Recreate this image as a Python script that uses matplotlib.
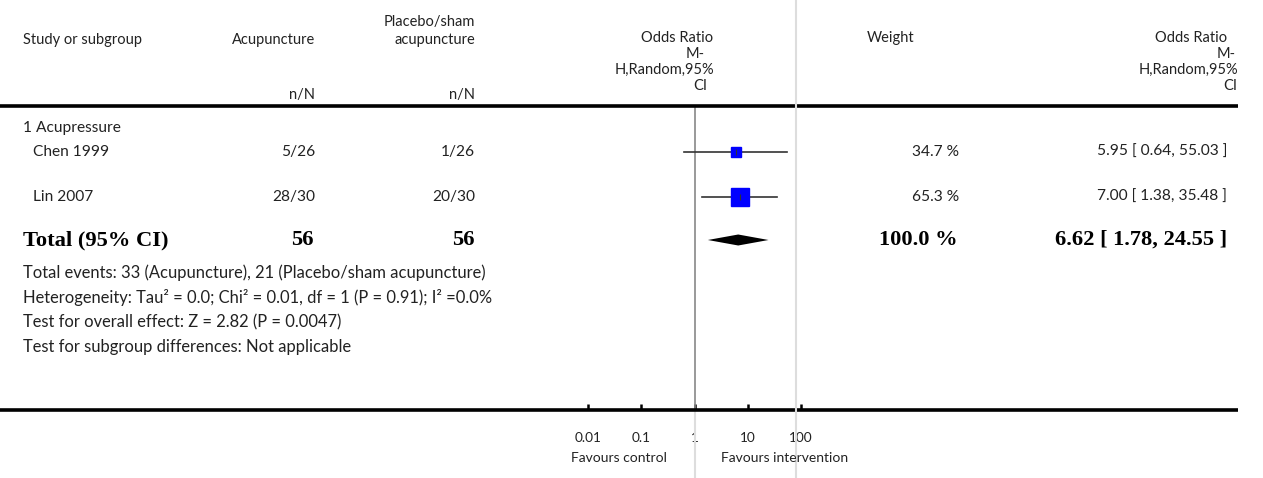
##########################################
# forest plot: acupuncture vs placebo #
##########################################

import numpy as np
import matplotlib
matplotlib.use('Agg')
import matplotlib.pyplot as plt
from matplotlib.lines import Line2D
from matplotlib.patches import Polygon

# data
subgroup = '1 Acupressure'
studies = ['Chen 1999', 'Lin 2007']
acu_events = [5, 28]
acu_total = [26, 30]
pla_events = [1, 20]
pla_total = [26, 30]
weights = [34.7, 65.3]
or_est = [5.95, 7.00]
or_low = [0.64, 1.38]
or_high = [55.03, 35.48]
tot_est = 6.62
tot_low = 1.78
tot_high = 24.55
tot_weight = 100.0
xticks = [0.01, 0.1, 1, 10, 100]
xticklabels = ['0.01', '0.1', '1', '10', '100']
footnotes = ['Total events: {} (Acupuncture), {} (Placebo/sham acupuncture)'.format(sum(acu_events), sum(pla_events)),
             'Heterogeneity: Tau\u00b2 = 0.0; Chi\u00b2 = 0.01, df = 1 (P = 0.91); I\u00b2 =0.0%',
             'Test for overall effect: Z = 2.82 (P = 0.0047)',
             'Test for subgroup differences: Not applicable']

W, H = 1263, 478
fig = plt.figure(figsize=(W/100., H/100.), dpi=100)
plt.rcParams['font.family'] = ['Lato', 'DejaVu Sans']
FS = 10.5
FS_ROW = 11.2
BOLD = dict(family='Liberation Serif', weight='bold', fontsize=16.2)

def px(x, y):
    ### pixel position (from top left) to figure fraction
    return x/float(W), 1-y/float(H)

def txt(x, y, s, ha='left', **kw):
    opts = dict(fontsize=FS, color='#222222', va='center', ha=ha)
    opts.update(kw)
    fig.text(*px(x, y), s, **opts)

def hline(y, x0=0, x1=1238, lw=2.6, color='black'):
    (a, b), (c, d) = px(x0, y), px(x1, y)
    fig.add_artist(Line2D([a, c], [b, d], color=color, lw=lw, solid_capstyle='butt'))

### header
txt(23, 40, 'Study or subgroup')
txt(315, 40, 'Acupuncture', ha='right')
txt(475, 22, 'Placebo/sham', ha='right')
txt(475, 40, 'acupuncture', ha='right')
txt(315, 95, 'n/N', ha='right')
txt(475, 95, 'n/N', ha='right')
for (y, s, x) in [(38, 'Odds Ratio', 713), (54, 'M-', 705), (70, 'H,Random,95%', 714), (86, 'CI', 707)]:
    txt(x, y, s, ha='right')
txt(914, 38, 'Weight', ha='right')
for (y, s, x) in [(38, 'Odds Ratio', 1227), (54, 'M-', 1236), (70, 'H,Random,95%', 1238), (86, 'CI', 1237)]:
    txt(x, y, s, ha='right')
hline(106)
hline(410)

### light column separator
fig.add_artist(Line2D([796/float(W)]*2, [0, 1], color='#dddddd', lw=1.5))

### table rows
row_y = [152, 197]
txt(23, 128, subgroup, fontsize=FS_ROW)
for i, name in enumerate(studies):
    y = row_y[i]
    txt(33, y, name, fontsize=FS_ROW)
    txt(315, y, '{}/{}'.format(acu_events[i], acu_total[i]), ha='right', fontsize=FS_ROW)
    txt(475, y, '{}/{}'.format(pla_events[i], pla_total[i]), ha='right', fontsize=FS_ROW)
    txt(959, y, '{:.1f} %'.format(weights[i]), ha='right', fontsize=FS_ROW)
    txt(1227, y, '{:.2f} [ {:.2f}, {:.2f} ]'.format(or_est[i], or_low[i], or_high[i]), ha='right', fontsize=FS_ROW)

ytot = 240
txt(23, ytot, 'Total (95% CI)', color='black', **BOLD)
txt(314, ytot, '{}'.format(sum(acu_total)), ha='right', color='black', **BOLD)
txt(475, ytot, '{}'.format(sum(pla_total)), ha='right', color='black', **BOLD)
txt(958, ytot, '{:.1f} %'.format(tot_weight), ha='right', color='black', **BOLD)
txt(1227, ytot, '{:.2f} [ {:.2f}, {:.2f} ]'.format(tot_est, tot_low, tot_high), ha='right', color='black', **BOLD)

for i, s in enumerate(footnotes):
    txt(23, 273+24.7*i, s, fontsize=11.9)

### forest panel
l, b = px(588, 410)
r, t = px(801, 106)
ax = fig.add_axes([l, b, r-l, t-b])
ax.set_xscale('log')
ax.set_xlim(0.01, 100)
ax.set_ylim(410, 106)
for s in ax.spines.values():
    s.set_visible(False)
ax.patch.set_alpha(0)
ax.set_yticks([])
ax.set_xticks(xticks)
ax.set_xticklabels(xticklabels, fontsize=9.8, color='#222222')
ax.xaxis.set_minor_locator(matplotlib.ticker.NullLocator())
ax.tick_params(axis='x', direction='in', length=4.5, width=1.8, pad=16, color='black')

ax.axvline(1, color='#888888', lw=1.2)
ax.plot([1, 1], [0, -0.23], color='#dddddd', lw=1.5, transform=ax.get_xaxis_transform(), clip_on=False)

wmax = max(weights)
for i in range(len(studies)):
    y = row_y[i]
    ax.plot([or_low[i], or_high[i]], [y, y], color='#333333', lw=1.2, clip_on=False)
    ms = 13.0*(weights[i]/wmax)**0.8
    ax.plot(or_est[i], y, marker='s', ms=ms, color='#0000ff', mec='#0000ff', clip_on=False)
    ax.plot(or_est[i], y, marker='|', ms=4, mew=0.8, color='#333333', clip_on=False)

diamond = Polygon([[tot_low, ytot], [tot_est, ytot-5.5], [tot_high, ytot], [tot_est, ytot+5.5]],
                  closed=True, color='black', lw=0)
ax.add_patch(diamond)

### favours labels
txt(667, 458, 'Favours control', ha='right', fontsize=10)
txt(721, 458, 'Favours intervention', fontsize=10)

fig.savefig('out.png', dpi=100)
